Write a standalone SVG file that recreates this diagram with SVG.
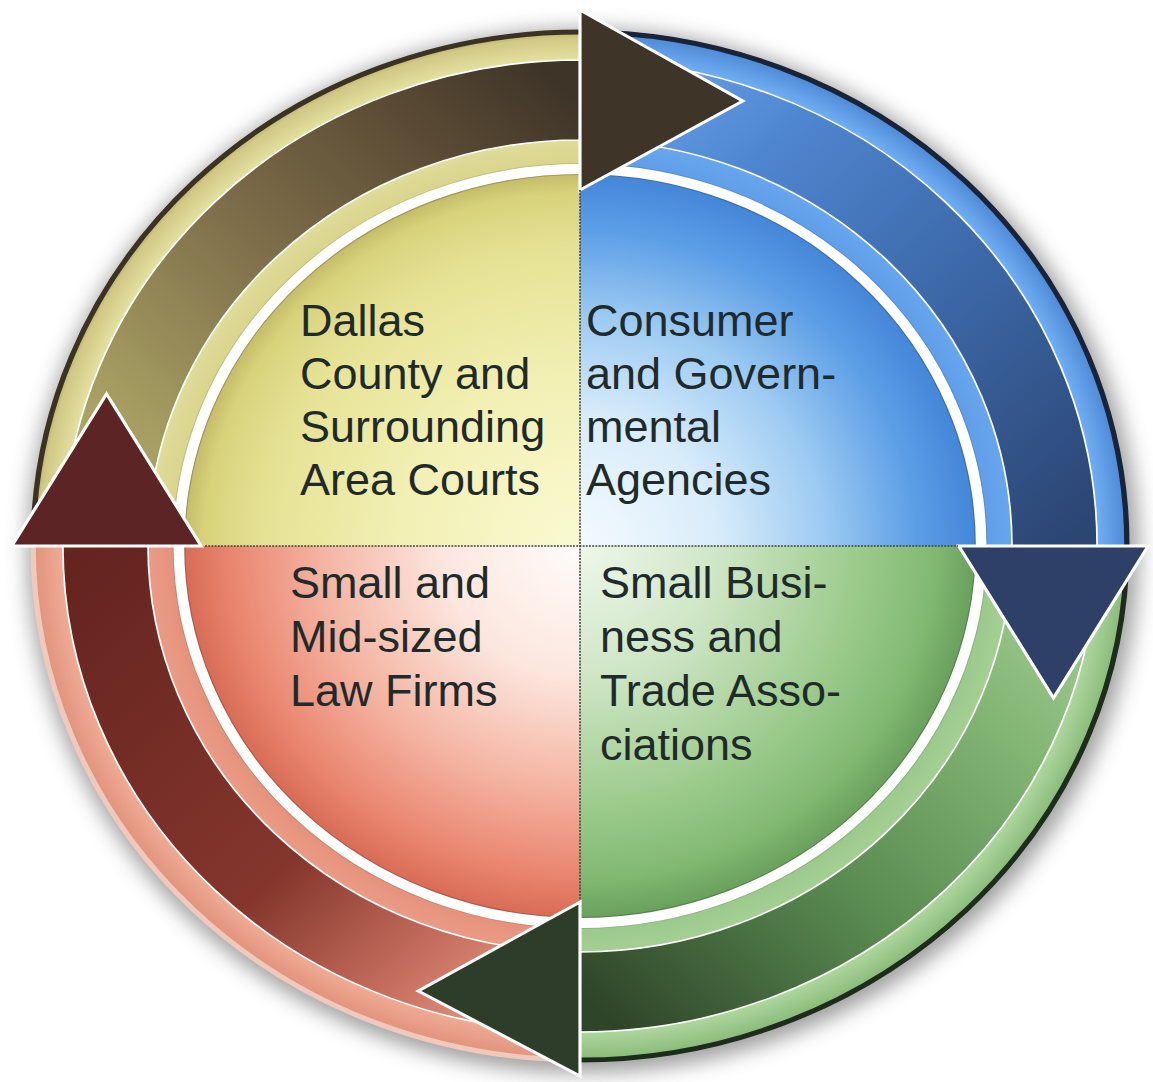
<svg xmlns="http://www.w3.org/2000/svg" width="1153" height="1082" viewBox="0 0 1153 1082">
<defs>
  <filter id="blur" x="-20%" y="-20%" width="140%" height="140%"><feGaussianBlur stdDeviation="10"/></filter>
  <radialGradient id="dY" gradientUnits="userSpaceOnUse" cx="0" cy="0" r="372">
    <stop offset="0" stop-color="#fafad2"/><stop offset="0.45" stop-color="#f2f0b4"/><stop offset="0.8" stop-color="#e6e294"/><stop offset="0.95" stop-color="#d8d27c"/><stop offset="1" stop-color="#c4bc68"/>
  </radialGradient>
  <radialGradient id="dB" gradientUnits="userSpaceOnUse" cx="0" cy="0" r="372">
    <stop offset="0" stop-color="#f4fafe"/><stop offset="0.35" stop-color="#d8ecfa"/><stop offset="0.62" stop-color="#9ccaf2"/><stop offset="0.85" stop-color="#5c9ee6"/><stop offset="1" stop-color="#4486d8"/>
  </radialGradient>
  <radialGradient id="dG" gradientUnits="userSpaceOnUse" cx="0" cy="0" r="372">
    <stop offset="0" stop-color="#eef7ea"/><stop offset="0.35" stop-color="#cfe6c6"/><stop offset="0.7" stop-color="#9ccb8c"/><stop offset="0.9" stop-color="#80b872"/><stop offset="1" stop-color="#68a05c"/>
  </radialGradient>
  <radialGradient id="dR" gradientUnits="userSpaceOnUse" cx="0" cy="0" r="372">
    <stop offset="0" stop-color="#fffcfa"/><stop offset="0.35" stop-color="#fce6de"/><stop offset="0.65" stop-color="#f4b4a2"/><stop offset="0.88" stop-color="#ea8670"/><stop offset="1" stop-color="#d86c56"/>
  </radialGradient>
  <radialGradient id="rY" gradientUnits="userSpaceOnUse" cx="0" cy="0" r="516">
    <stop offset="0.72" stop-color="#d6d288"/><stop offset="0.79" stop-color="#e0dc9a"/><stop offset="0.94" stop-color="#e6e2a2"/><stop offset="0.985" stop-color="#d0c884"/><stop offset="1" stop-color="#b0a868"/>
  </radialGradient>
  <radialGradient id="rB" gradientUnits="userSpaceOnUse" cx="0" cy="0" r="516">
    <stop offset="0.72" stop-color="#5c9ce6"/><stop offset="0.79" stop-color="#68a6ee"/><stop offset="0.94" stop-color="#72b0f4"/><stop offset="1" stop-color="#4a86d4"/>
  </radialGradient>
  <radialGradient id="rG" gradientUnits="userSpaceOnUse" cx="0" cy="0" r="516">
    <stop offset="0.72" stop-color="#98c688"/><stop offset="0.79" stop-color="#a4d094"/><stop offset="0.94" stop-color="#b0d8a0"/><stop offset="1" stop-color="#86b876"/>
  </radialGradient>
  <radialGradient id="rR" gradientUnits="userSpaceOnUse" cx="0" cy="0" r="516">
    <stop offset="0.72" stop-color="#e48e78"/><stop offset="0.79" stop-color="#ea9c86"/><stop offset="0.94" stop-color="#f0ac96"/><stop offset="1" stop-color="#e0907a"/>
  </radialGradient>
  <linearGradient id="sY" gradientUnits="userSpaceOnUse" x1="-446" y1="0" x2="0" y2="-446">
    <stop offset="0" stop-color="#b8b070"/><stop offset="0.2" stop-color="#a39a60"/><stop offset="0.5" stop-color="#7e6e4a"/><stop offset="0.8" stop-color="#5a4a34"/><stop offset="1" stop-color="#3e3428"/>
  </linearGradient>
  <linearGradient id="sB" gradientUnits="userSpaceOnUse" x1="0" y1="-446" x2="446" y2="0">
    <stop offset="0" stop-color="#6aa6ea"/><stop offset="0.25" stop-color="#4f86d0"/><stop offset="0.6" stop-color="#3c68a8"/><stop offset="1" stop-color="#2c4674"/>
  </linearGradient>
  <linearGradient id="sG" gradientUnits="userSpaceOnUse" x1="446" y1="0" x2="0" y2="446">
    <stop offset="0" stop-color="#a6d094"/><stop offset="0.25" stop-color="#84b676"/><stop offset="0.6" stop-color="#5a8c52"/><stop offset="1" stop-color="#2f4529"/>
  </linearGradient>
  <linearGradient id="sR" gradientUnits="userSpaceOnUse" x1="0" y1="446" x2="-446" y2="0">
    <stop offset="0" stop-color="#eba48e"/><stop offset="0.2" stop-color="#c87060"/><stop offset="0.45" stop-color="#84362c"/><stop offset="1" stop-color="#652420"/>
  </linearGradient>
</defs>
<style>
  .txt{font-family:"Liberation Sans",Arial,sans-serif;font-size:45px;fill:#1f2b2b}
  .shaft{stroke:#ffffff;stroke-width:1.6}
  .head{stroke:#ffffff;stroke-width:3;stroke-linejoin:miter}
  .edge{fill:none;stroke-width:5}
  .divider{fill:none;stroke:#454545;stroke-width:1.6;stroke-dasharray:2 1.2}
</style>
<rect width="1153" height="1082" fill="#ffffff"/>

<g id="ring" transform="translate(580,546) scale(1.064,1)">
  <circle cx="3" cy="5" r="522" fill="#606060" opacity="0.6" filter="url(#blur)"/>
  <path d="M -516 0 A 516 516 0 0 1 0 -516 L 0 -372 A 372 372 0 0 0 -372 0 Z" fill="url(#rY)"/>
  <path d="M 0 -516 A 516 516 0 0 1 516 0 L 372 0 A 372 372 0 0 0 0 -372 Z" fill="url(#rB)"/>
  <path d="M 516 0 A 516 516 0 0 1 0 516 L 0 372 A 372 372 0 0 0 372 0 Z" fill="url(#rG)"/>
  <path d="M 0 516 A 516 516 0 0 1 -516 0 L -372 0 A 372 372 0 0 0 0 372 Z" fill="url(#rR)"/>
  <path class="edge" d="M -514 0 A 514 514 0 0 1 0 -514" stroke="#3a3222"/>
  <path class="edge" d="M 0 -514 A 514 514 0 0 1 514 0" stroke="#1a2438"/>
  <path class="edge" d="M 514 0 A 514 514 0 0 1 0 514" stroke="#1e2c1c"/>
  <path class="edge" d="M 0 514 A 514 514 0 0 1 -514 0" stroke="#efcabc"/>
</g>

<g id="node-courts">
  <path transform="translate(580,546) scale(1.064,1)" d="M 0 0 L -372 0 A 372 372 0 0 1 0 -372 Z" fill="url(#dY)"/>
  <text class="txt"><tspan x="300" y="336">Dallas</tspan><tspan x="300" y="389">County and</tspan><tspan x="300" y="442">Surrounding</tspan><tspan x="300" y="495">Area Courts</tspan></text>
</g>
<g id="node-agencies">
  <path transform="translate(580,546) scale(1.064,1)" d="M 0 0 L 0 -372 A 372 372 0 0 1 372 0 Z" fill="url(#dB)"/>
  <text class="txt"><tspan x="586" y="336">Consumer</tspan><tspan x="586" y="389">and Govern-</tspan><tspan x="586" y="442">mental</tspan><tspan x="586" y="495">Agencies</tspan></text>
</g>
<g id="node-business">
  <path transform="translate(580,546) scale(1.064,1)" d="M 0 0 L 372 0 A 372 372 0 0 1 0 372 Z" fill="url(#dG)"/>
  <text class="txt"><tspan x="600" y="598">Small Busi-</tspan><tspan x="600" y="652">ness and</tspan><tspan x="600" y="706">Trade Asso-</tspan><tspan x="600" y="760">ciations</tspan></text>
</g>
<g id="node-lawfirms">
  <path transform="translate(580,546) scale(1.064,1)" d="M 0 0 L 0 372 A 372 372 0 0 1 -372 0 Z" fill="url(#dR)"/>
  <text class="txt"><tspan x="290" y="598">Small and</tspan><tspan x="290" y="652">Mid-sized</tspan><tspan x="290" y="706">Law Firms</tspan></text>
</g>

<g id="inner-band" transform="translate(580,546) scale(1.064,1)" fill="none">
  <circle r="377" stroke="#ffffff" stroke-width="10"/>
  <circle r="371.5" stroke="#000000" stroke-opacity="0.18" stroke-width="1.2"/>
  <circle r="382.5" stroke="#000000" stroke-opacity="0.1" stroke-width="1"/>
</g>

<g id="connectors" transform="translate(580,546) scale(1.064,1)">
  <path class="shaft" d="M -486 0 A 486 486 0 0 1 0 -486 L 0 -406 A 406 406 0 0 0 -406 0 Z" fill="url(#sY)"/>
  <path class="shaft" d="M 0 -486 A 486 486 0 0 1 486 0 L 406 0 A 406 406 0 0 0 0 -406 Z" fill="url(#sB)"/>
  <path class="shaft" d="M 486 0 A 486 486 0 0 1 0 486 L 0 406 A 406 406 0 0 0 406 0 Z" fill="url(#sG)"/>
  <path class="shaft" d="M 0 486 A 486 486 0 0 1 -486 0 L -406 0 A 406 406 0 0 0 0 406 Z" fill="url(#sR)"/>
  <polygon class="head" points="0,-536 153,-445 0,-356" fill="#3e3427"/>
  <polygon class="head" points="534,0 445,152 356,0" fill="#2f4068"/>
  <polygon class="head" points="0,530 -152,445 0,356" fill="#2e3d2a"/>
  <polygon class="head" points="-534,0 -445,-152 -356,0" fill="#5c2424"/>
</g>

<g id="dividers">
  <line class="divider" x1="580" y1="190" x2="580" y2="900"/>
  <line class="divider" x1="205" y1="546" x2="958" y2="546"/>
</g>
</svg>
